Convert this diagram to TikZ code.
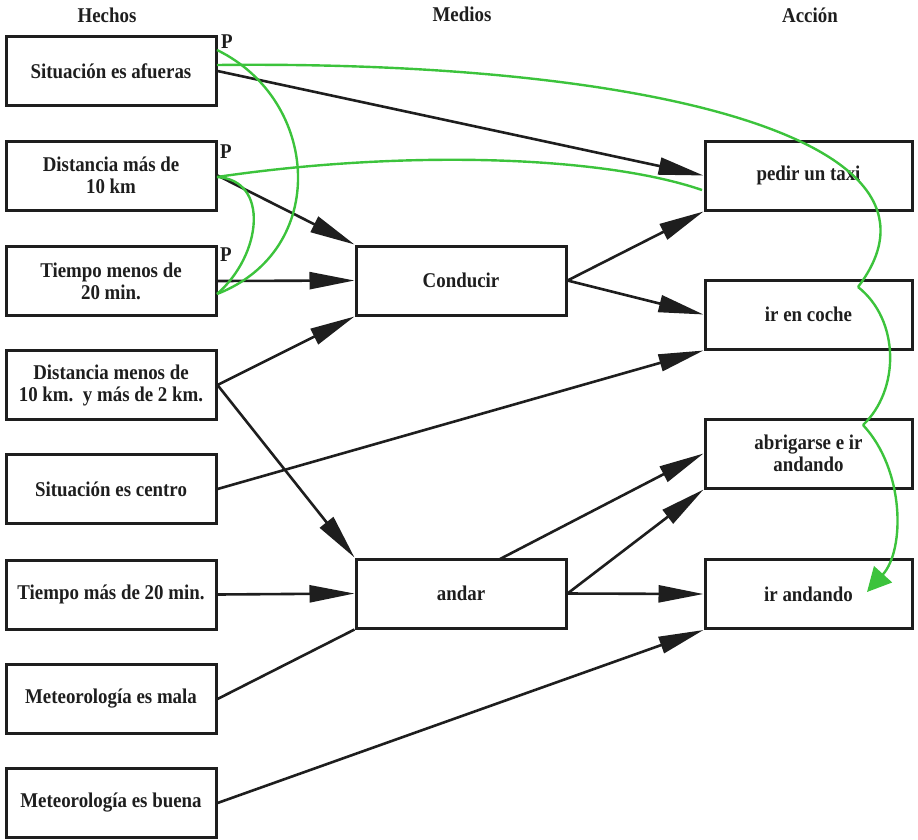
\documentclass[tikz,border=0pt]{standalone}
\usepackage{fontspec}
\setmainfont{Liberation Serif}[FakeStretch=0.9]
\usetikzlibrary{arrows.meta}
\definecolor{ink}{RGB}{30,30,30}
\definecolor{grn}{RGB}{60,195,60}
\begin{document}
\begin{tikzpicture}[x=1pt,y=-1pt,
  box/.style={draw=ink, line width=3pt, minimum width=210pt, minimum height=69pt,
    align=center, inner sep=2pt, font=\fontsize{21}{22}\selectfont\bfseries, text=ink},
  lbl/.style={font=\fontsize{21}{22}\selectfont\bfseries, text=ink, inner sep=0pt},
  conn/.style={draw=ink, line width=2.6pt, -{Triangle[length=45pt,width=17pt]}},
  plainline/.style={draw=ink, line width=2.6pt},
  gline/.style={draw=grn, line width=2.4pt},
  garrow/.style={draw=grn, line width=2.4pt, -{Triangle[length=24pt,width=24pt]}}]
\useasboundingbox (0,0) rectangle (918,839);

% headers
\node[lbl] (hh) at (107,15) {Hechos};
\node[lbl] (hm) at (462,14) {Medios};
\node[lbl] (ha) at (810,15) {Acción};

% left column
\node[box] (b1) at (111,71) {Situación es afueras};
\node[box] (b2) at (111,175.5) {Distancia más de\\10 km};
\node[box] (b3) at (111,281) {Tiempo menos de\\20 min.};
\node[box] (b4) at (111,385) {Distancia menos de\\10 km.\ \ y más de 2 km.};
\node[box] (b5) at (111,489) {Situación es centro};
\node[box] (b6) at (111,594.5) {Tiempo más de 20 min.};
\node[box] (b7) at (111,699) {Meteorología es mala};
\node[box] (b8) at (111,803) {Meteorología es buena};

% middle column
\node[box] (cond) at (461,280.5) {Conducir};
\node[box] (andar) at (461,593.5) {andar};

% right column
\node[box, minimum width=207pt] (taxi) at (808.5,175.5) {pedir un taxi};
\node[box, minimum width=207pt] (coche) at (808.5,314.5) {ir en coche};
\node[box, minimum width=207pt] (abrig) at (808.5,453.5) {abrigarse e ir\\andando};
\node[box, minimum width=207pt] (irand) at (808.5,594) {ir andando};

% P labels
\node[lbl] (p1) at (227,42) {P};
\node[lbl] (p2) at (226,152) {P};
\node[lbl] (p3) at (226,255) {P};

% black connectors
\draw[conn] (b1.east) -- (taxi.west);
\draw[conn] (b2.east) -- (cond.north west);
\draw[conn] (b3.east) -- (cond.west);
\draw[conn] (b4.east) -- (cond.south west);
\draw[conn] (b4.east) -- (andar.north west);
\draw[conn] (b5.east) -- (coche.south west);
\draw[conn] (b6.east) -- (andar.west);
\draw[plainline] (b7.east) -- (andar.south west);
\draw[conn] (b8.east) -- (irand.south west);
\draw[conn] (cond.east) -- (taxi.south west);
\draw[conn] (cond.east) -- (coche.west);
\coordinate (atop) at (500,559);
\draw[conn] (atop) -- (abrig.west);
\draw[conn] (andar.east) -- (abrig.south west);
\draw[conn] (andar.east) -- (irand.west);

% green curves
\coordinate (g1s) at (217,50);
\coordinate (g3s) at (217,65);
\coordinate (g2s) at (217,177);
\coordinate (g13e) at (217,294);
\coordinate (g4e) at (702,190);
\coordinate (k1) at (858,287);
\coordinate (k2) at (863,425);
\coordinate (gtip) at (867,592);

\draw[gline] (g1s) .. controls (320,100) and (330,250) .. (g13e);
\draw[gline] (g2s) .. controls (270,180) and (262,255) .. (g13e);
\draw[gline] (g2s) .. controls (400,150) and (600,155) .. (g4e);
\draw[gline] (g3s) .. controls (650,60) and (970,140) .. (k1);
\draw[gline] (k1) .. controls (900,320) and (900,390) .. (k2);
\draw[garrow] (k2) .. controls (905,470) and (905,550) .. (gtip);
\end{tikzpicture}
\end{document}
